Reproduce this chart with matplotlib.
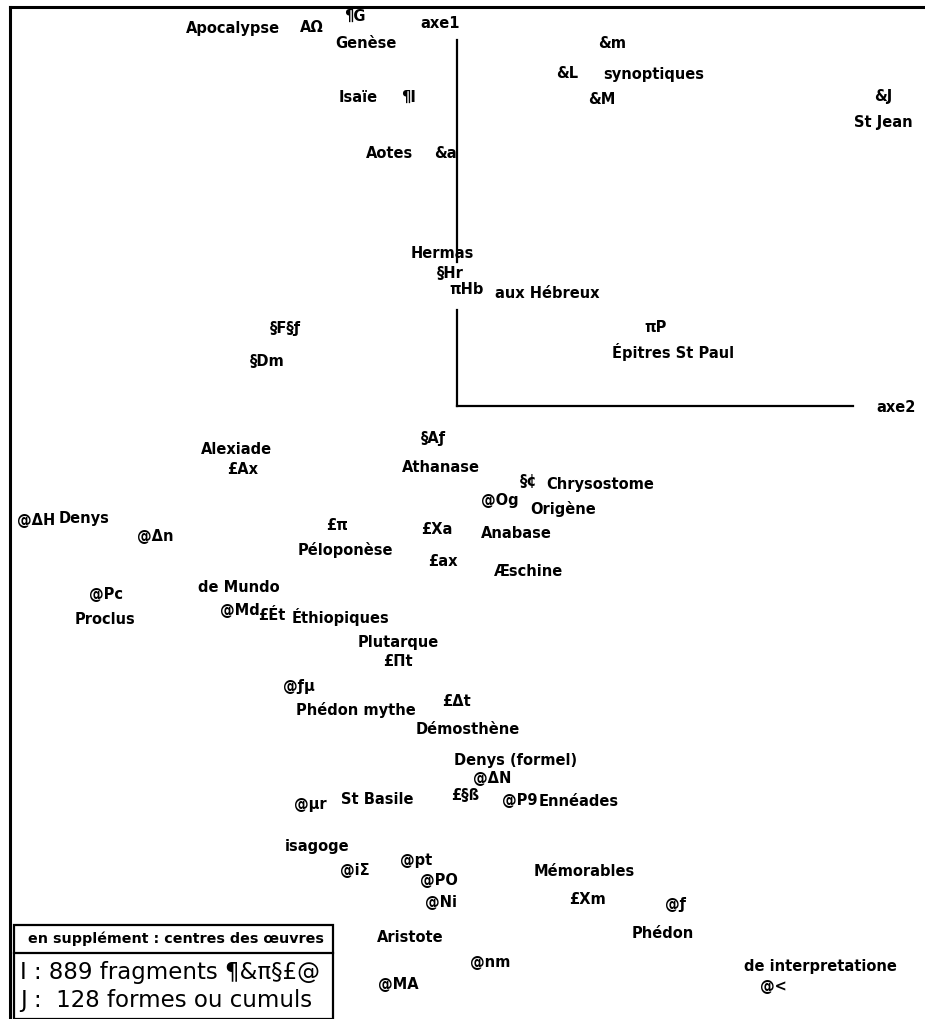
import matplotlib
matplotlib.use("Agg")
import matplotlib.pyplot as plt
from matplotlib.patches import Rectangle

# factor coordinates (axe2 horizontal, axe1 vertical)
labels = [
    "Apocalypse", "ΑΩ", "¶G", "Genèse", "&m", "&L", "synoptiques", "&M",
    "&J", "St Jean", "Isaïe", "¶I", "Aotes", "&a",
    "Hermas", "§Hr", "πHb", "aux Hébreux", "§F§ƒ", "§Dm", "πP",
    "Épitres St Paul", "§Aƒ", "Alexiade", "£Ax", "Athanase", "§¢",
    "Chrysostome", "@Og", "Origène", "@ΔH", "Denys", "@Δn", "£π",
    "Péloponèse", "£Xa", "Anabase", "£ax", "Æschine", "de Mundo", "@Pc",
    "Proclus", "@Md", "£Ét", "Éthiopiques", "Plutarque", "£Πt", "@ƒμ",
    "Phédon mythe", "£Δt", "Démosthène", "Denys (formel)", "@ΔN", "@μr",
    "St Basile", "£§ß", "@P9", "Ennéades", "isagoge", "@iΣ", "@pt", "@PO",
    "@Ni", "Mémorables", "£Xm", "@ƒ", "Phédon", "Aristote", "@nm",
    "de interpretatione", "@<", "@MA",
]
axe2 = [
    -2.24, -1.45, -1.02, -0.91, 1.55, 1.10, 1.97, 1.45,
    4.26, 4.26, -0.99, -0.49, -0.67, -0.12,
    -0.15, -0.07, 0.10, 0.90, -1.72, -1.90, 1.99,
    2.16, -0.24, -2.21, -2.14, -0.16, 0.72,
    1.43, 0.43, 1.06, -4.21, -3.73, -3.02, -1.20,
    -1.12, -0.20, 0.59, -0.14, 0.72, -2.18, -3.51,
    -3.52, -2.17, -1.85, -1.17, -0.59, -0.59, -1.58,
    -1.01, -0.01, 0.11, 0.59, 0.35, -1.47,
    -0.80, 0.08, 0.63, 1.22, -1.40, -1.02, -0.41, -0.18,
    -0.16, 1.27, 1.30, 2.18, 2.06, -0.47, 0.33,
    3.63, 3.16, -0.59,
]
axe1 = [
    3.78, 3.78, 3.90, 3.63, 3.62, 3.32, 3.31, 3.07,
    3.09, 2.83, 3.09, 3.09, 2.52, 2.53,
    1.52, 1.33, 1.16, 1.12, 0.78, 0.44, 0.78,
    0.54, -0.32, -0.43, -0.64, -0.61, -0.76,
    -0.78, -0.94, -1.03, -1.14, -1.13, -1.31, -1.19,
    -1.44, -1.24, -1.28, -1.56, -1.65, -1.81, -1.88,
    -2.14, -2.04, -2.10, -2.11, -2.36, -2.56, -2.80,
    -3.04, -2.96, -3.23, -3.55, -3.72, -3.98,
    -3.94, -3.90, -3.94, -3.96, -4.41, -4.65, -4.54, -4.75,
    -4.96, -4.66, -4.94, -4.99, -5.28, -5.31, -5.56,
    -5.60, -5.80, -5.78,
]

# axis segments (axe1 broken around the Hermas group)
axe1_segments = [(3.66, 1.44), (0.96, 0.0)]
axe2_end = 3.96

legend_head = "en supplément : centres des œuvres"
legend_lines = ["I : 889 fragments ¶&π§£@", "J :  128 formes ou cumuls"]

fig = plt.figure(figsize=(9.25, 10.19), dpi=100)
ax = fig.add_axes([0, 0, 1, 1])
ax.set_xlim(-4.57, 4.68)
ax.set_ylim(-6.13, 4.06)
ax.axis("off")

fam = ["DejaVu Sans"]
for lab, x, y in zip(labels, axe2, axe1):
    ax.text(x, y, lab, ha="center", va="center", fontsize=10.5,
            fontweight="bold", family=fam, color="black")

for y0, y1 in axe1_segments:
    ax.plot([0, 0], [y0, y1], color="black", lw=1.6)
ax.plot([0, axe2_end], [0, 0], color="black", lw=1.6)
ax.text(-0.17, 3.83, "axe1", ha="center", va="center", fontsize=10.5,
        fontweight="bold", family=fam)
ax.text(4.39, -0.01, "axe2", ha="center", va="center", fontsize=10.5,
        fontweight="bold", family=fam)

# page frame: top and left edges only
W, H = 925, 1019
fig.add_artist(plt.Line2D([10 / W, 1], [1 - 7 / H, 1 - 7 / H], color="black", lw=2.2))
fig.add_artist(plt.Line2D([10 / W, 10 / W], [0, 1 - 7 / H], color="black", lw=2.2))

# legend box at lower left
fig.add_artist(Rectangle((14 / W, 0), (333 - 14) / W, 1 - 925 / H,
                         fill=False, ec="black", lw=1.6))
fig.add_artist(plt.Line2D([14 / W, 333 / W], [1 - 953 / H, 1 - 953 / H],
                          color="black", lw=1.6))
fig.text(176 / W, 1 - 939 / H, legend_head, ha="center", va="center",
         fontsize=10.3, fontweight="bold", family=fam)
for i, line in enumerate(legend_lines):
    fig.text(20 / W, 1 - (973 + 27 * i) / H, line, ha="left", va="center",
             fontsize=16.5, family=fam)

fig.savefig("out.png", dpi=100, facecolor="white")
